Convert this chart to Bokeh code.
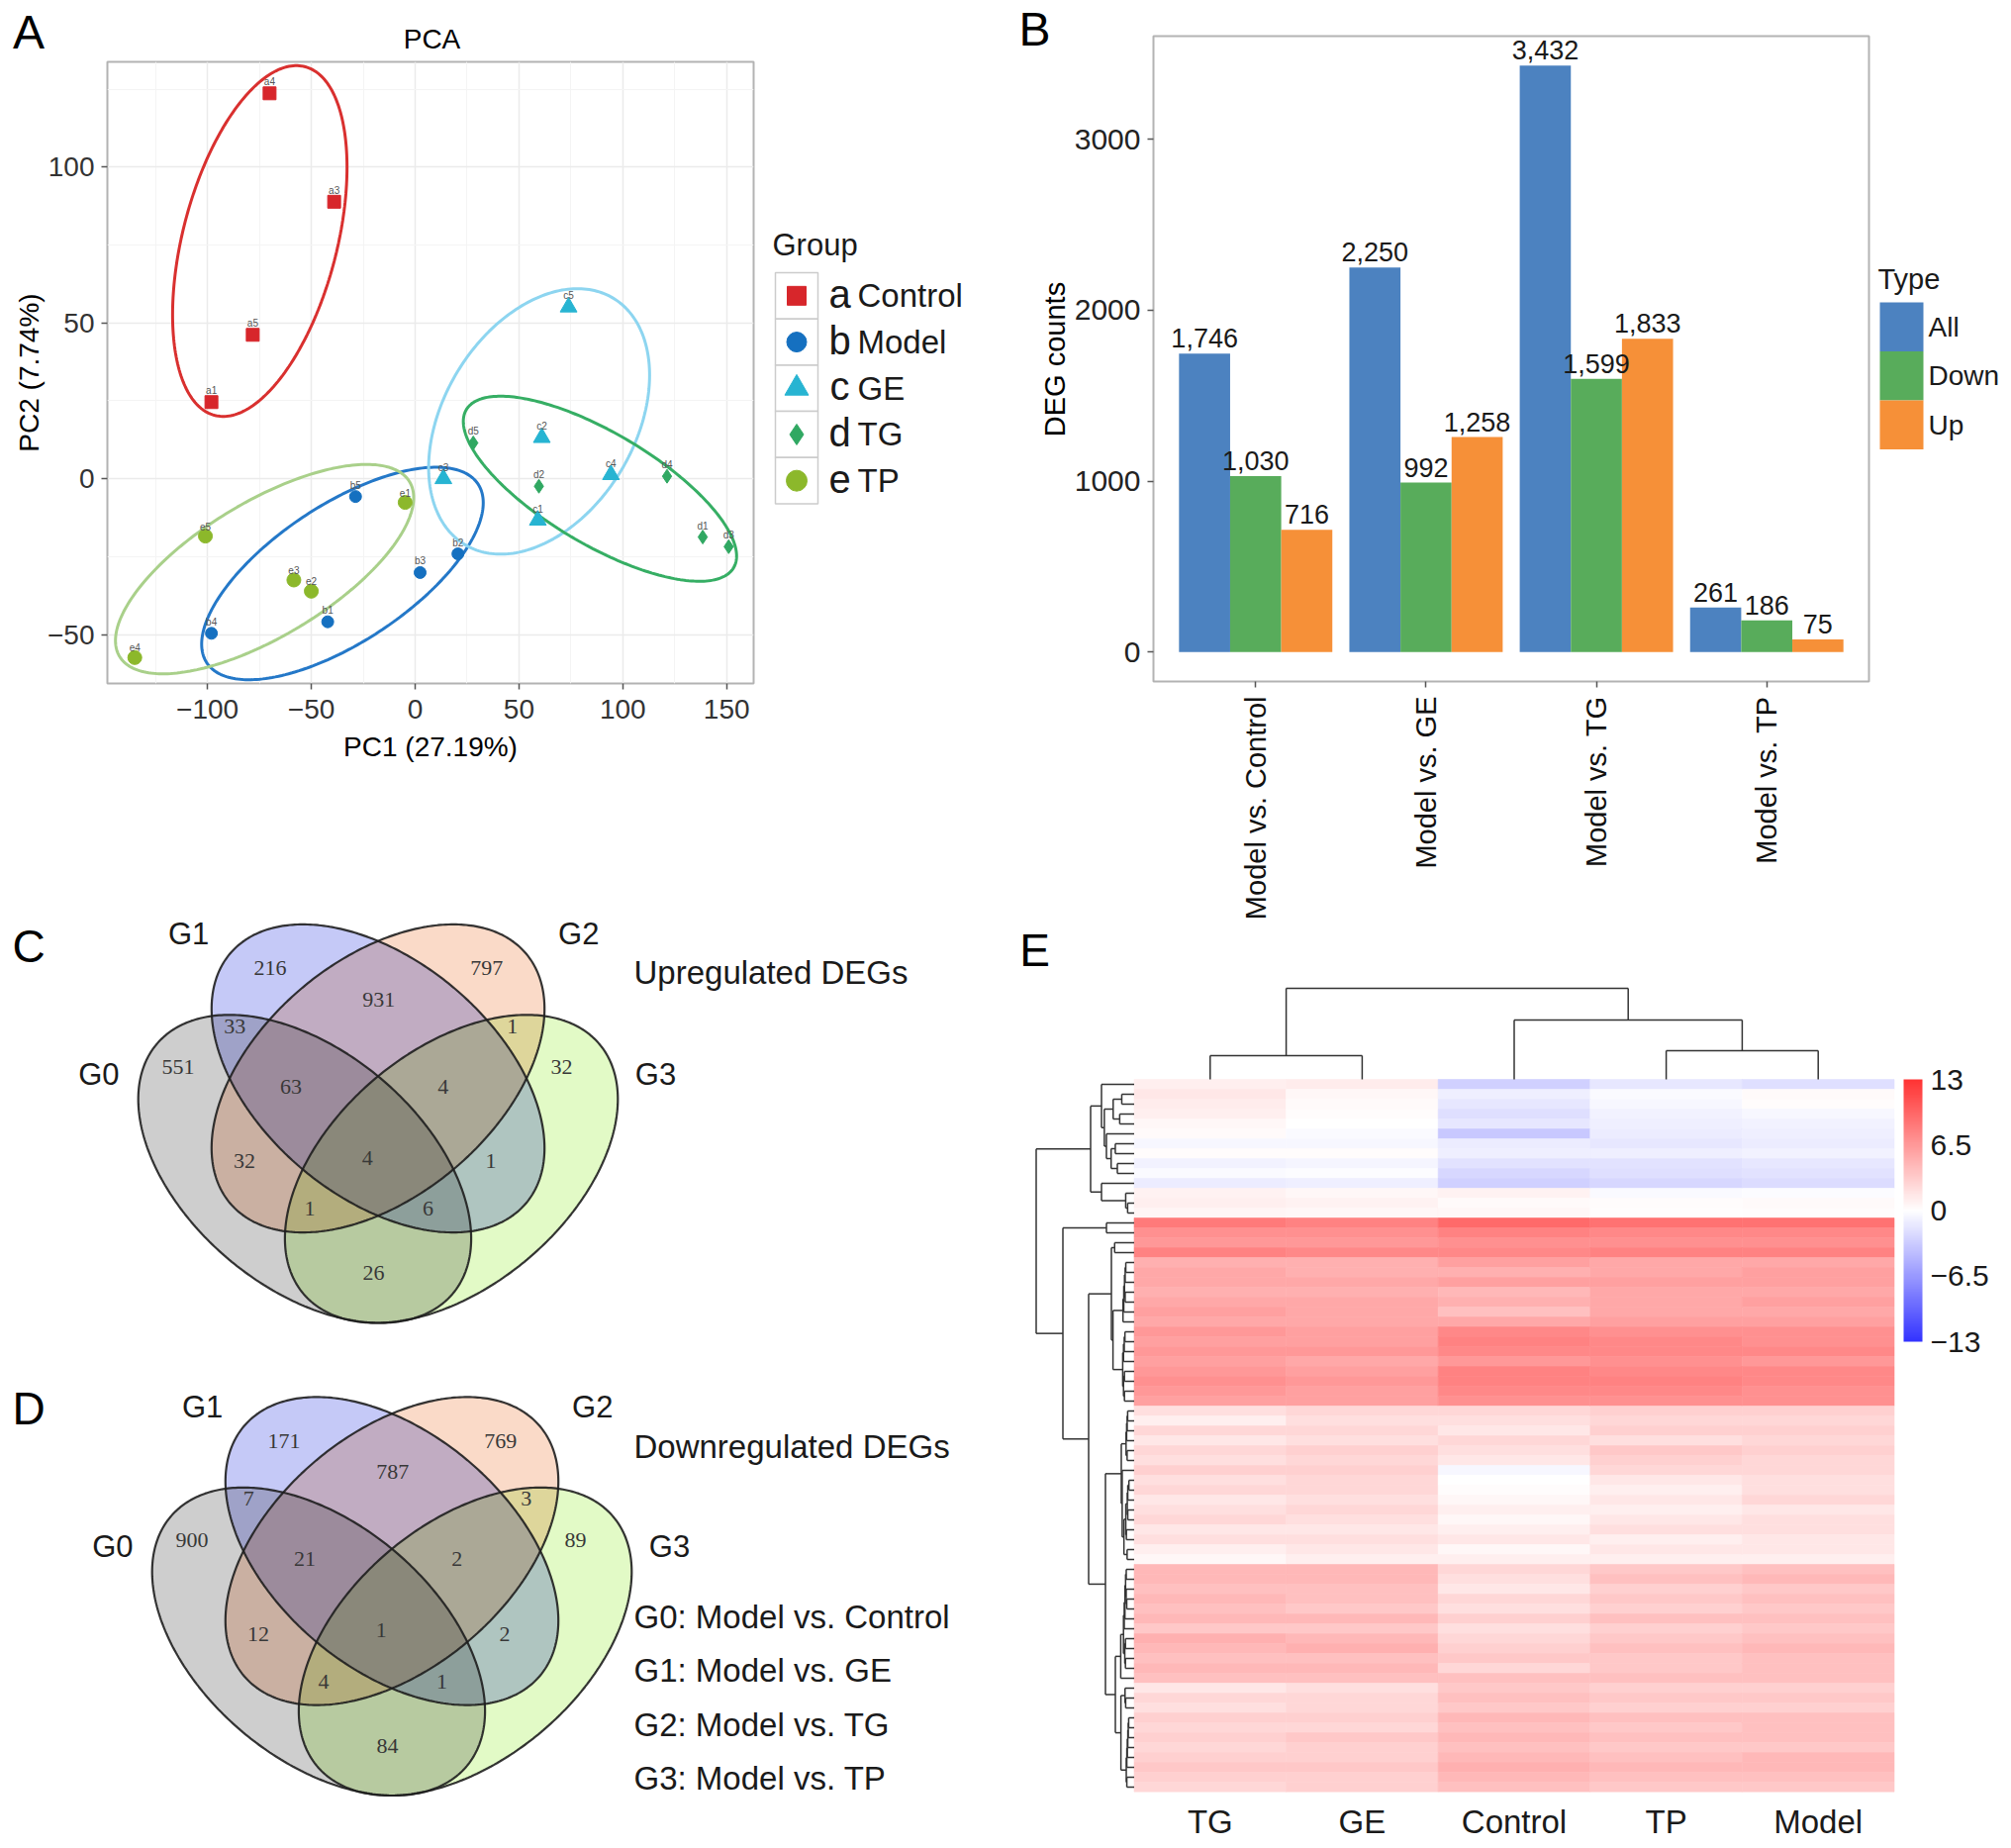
import numpy as np
from bokeh.plotting import figure
from bokeh.models import Range1d, FixedTicker, ColorBar, LinearColorMapper, ColumnDataSource
from bokeh.layouts import row, column
from bokeh.transform import dodge
from bokeh.embed import file_html
from bokeh.resources import INLINE
from bokeh.core.properties import value

SANS = "Liberation Sans"
SERIF = "Liberation Serif"
MINUS = "\u2212"

# ============================ DATA ============================
# ---- A: PCA scores ----
pca_groups = ["Control", "Model", "GE", "TG", "TP"]
pca_codes = ["a", "b", "c", "d", "e"]
control_ids = ["a1", "a3", "a4", "a5"]
control_pc1 = [-98.1, -39.0, -70.1, -78.2]
control_pc2 = [24.6, 88.9, 123.7, 46.2]
model_ids = ["b1", "b2", "b3", "b4", "b5"]
model_pc1 = [-42.1, 20.6, 2.4, -98.1, -28.7]
model_pc2 = [-45.9, -24.1, -30.1, -49.6, -5.7]
ge_ids = ["c1", "c2", "c3", "c4", "c5"]
ge_pc1 = [59.1, 61.0, 13.6, 94.3, 73.9]
ge_pc2 = [-13.3, 13.2, 0.0, 1.3, 55.1]
tg_ids = ["d1", "d2", "d3", "d4", "d5"]
tg_pc1 = [138.5, 59.6, 151.0, 121.3, 28.0]
tg_pc2 = [-18.7, -2.4, -21.8, 0.8, 11.5]
tp_ids = ["e1", "e2", "e3", "e4", "e5"]
tp_pc1 = [-4.8, -50.0, -58.4, -135.0, -101.0]
tp_pc2 = [-7.6, -36.1, -32.5, -57.4, -18.4]
# group ellipses: centre, half extent along PC1 / PC2, PC1-PC2 correlation
ell_pc1_mid = [-74.8, -35.0, 59.7, 89.0, -72.5]
ell_pc2_mid = [76.3, -30.4, 18.4, -3.2, -29.0]
ell_pc1_half = [42.0, 67.8, 53.2, 65.8, 71.8]
ell_pc2_half = [56.3, 34.1, 42.6, 29.7, 33.6]
ell_corr = [0.42, 0.665, 0.348, -0.727, 0.683]

# ---- B: DEG counts ----
deg_comparisons = ["Model vs. Control", "Model vs. GE", "Model vs. TG", "Model vs. TP"]
deg_types = ["All", "Down", "Up"]
deg_all = [1746, 2250, 3432, 261]
deg_down = [1030, 992, 1599, 186]
deg_up = [716, 1258, 1833, 75]

# ---- C / D: Venn region counts ----
venn_sets = ["G0", "G1", "G2", "G3"]
venn_set_desc = ["Model vs. Control", "Model vs. GE", "Model vs. TG", "Model vs. TP"]
venn_regions = ["G1", "G2", "G1G2", "G0G1", "G2G3", "G0", "G3", "G0G1G2", "G1G2G3",
                "G0G2", "G0G1G2G3", "G1G3", "G0G2G3", "G0G1G3", "G0G3"]
venn_up = [216, 797, 931, 33, 1, 551, 32, 63, 4, 32, 4, 1, 1, 6, 26]
venn_down = [171, 769, 787, 7, 3, 900, 89, 21, 2, 12, 1, 2, 4, 1, 84]

# ---- E: heatmap (rows top to bottom) ----
hm_samples = ["TG", "GE", "Control", "TP", "Model"]
hm_TG = [1.0, 1.5, 1.2, 1.0, 0.5, 0.3, -0.5, 0.2, -0.8, -0.3, -1.2, 0.8, 1.0, 0.6,
         8.5, 7.0, 6.5, 8.0,
         5.0, 5.5, 5.5, 5.0, 5.5, 6.0, 5.5,
         6.5, 6.0, 6.5, 6.0, 6.5, 7.0, 6.5, 6.0,
         2.0, 1.0, 2.5, 1.5, 2.5, 2.0, 3.0,
         2.0, 2.5, 1.5, 2.0, 2.5, 1.5, 2.0, 1.0, 0.5,
         4.5, 4.5, 4.0, 4.5, 4.0, 4.5, 3.5, 5.0, 4.5, 4.0, 4.5, 4.0,
         1.5, 2.5, 2.0, 3.0, 2.5, 3.0, 2.5, 3.0, 3.5, 3.0, 2.5]
hm_GE = [1.2, 0.5, 0.3, 0.2, 0.0, -0.3, -0.5, 0.2, -0.6, -0.2, -1.0, 0.5, 0.8, 0.5,
         8.0, 7.0, 6.5, 7.5,
         5.0, 5.0, 5.5, 5.0, 5.5, 5.5, 5.5,
         6.0, 6.0, 6.5, 5.5, 6.0, 6.5, 6.0, 6.0,
         2.5, 2.0, 2.5, 2.0, 3.0, 2.5, 3.0,
         2.5, 2.5, 2.0, 2.5, 2.0, 1.5, 2.0, 1.5, 1.0,
         4.5, 4.5, 4.0, 4.0, 3.5, 4.5, 3.5, 4.5, 5.0, 4.0, 4.5, 4.0,
         2.0, 2.5, 2.5, 3.0, 2.5, 3.5, 3.0, 3.0, 3.5, 3.0, 3.0]
hm_Control = [-3.0, -1.0, -1.5, -2.0, -1.5, -3.5, -1.2, -1.0, -1.8, -2.5, -3.0, 0.8, 0.3, 0.5,
              9.5, 8.0, 7.0, 7.5,
              6.0, 5.0, 6.0, 4.5, 5.0, 4.0, 5.5,
              7.5, 8.0, 7.5, 6.5, 8.0, 8.0, 7.5, 7.0,
              2.5, 2.0, 1.5, 2.5, 2.0, 1.5, -0.5,
              0.0, 0.2, 0.5, 1.0, 0.5, 1.0, 1.5, 0.5, 1.0,
              2.5, 2.0, 1.5, 2.5, 2.0, 3.0, 2.0, 2.5, 3.0, 3.5, 2.5, 4.0,
              3.5, 4.0, 3.5, 4.5, 4.0, 4.5, 4.0, 4.5, 5.0, 4.5, 4.0]
hm_TP = [-1.5, -0.3, -0.5, -0.8, -1.0, -1.2, -1.5, -1.0, -1.8, -2.0, -2.5, -0.3, 0.2, 0.1,
         9.0, 7.5, 7.0, 8.0,
         5.5, 5.5, 6.0, 5.5, 5.5, 5.5, 6.0,
         7.0, 7.5, 7.5, 7.0, 7.5, 8.0, 7.5, 7.0,
         3.0, 2.5, 3.0, 2.0, 3.5, 3.0, 2.5,
         1.5, 1.0, 1.5, 1.0, 1.5, 2.0, 1.0, 1.5, 1.0,
         3.5, 4.0, 3.0, 3.5, 3.0, 4.0, 3.0, 3.5, 4.0, 3.5, 3.5, 4.0,
         3.0, 3.5, 3.0, 4.0, 3.5, 4.0, 3.5, 4.0, 4.5, 4.0, 3.5]
hm_Model = [-2.0, 0.3, 0.2, -0.5, -0.8, -1.0, -1.2, -0.8, -1.5, -1.8, -2.2, -0.2, 0.3, 0.2,
            9.0, 7.5, 7.0, 8.0,
            5.5, 6.0, 6.0, 5.5, 6.0, 5.5, 6.0,
            7.0, 7.0, 7.5, 6.5, 7.5, 7.5, 7.0, 7.0,
            3.0, 2.5, 3.0, 2.5, 3.0, 2.5, 2.5,
            2.0, 2.0, 2.5, 1.5, 2.0, 2.0, 1.5, 1.5, 1.0,
            4.0, 4.5, 3.5, 4.0, 3.5, 4.0, 3.5, 4.0, 4.5, 4.0, 4.0, 4.0,
            3.0, 3.5, 3.0, 4.0, 4.0, 4.0, 3.5, 4.5, 4.5, 4.0, 3.5]
hm_limits = [-13, -6.5, 0, 6.5, 13]
# column dendrogram: merge heights (TG+GE), (TP+Model), (Control+[TP,Model]), root
col_merge_height = [24, 29, 60, 92]
# row dendrogram: row blocks, their top merge heights, and the merges joining them
row_blocks = [(0, 10), (10, 14), (14, 16), (16, 33), (33, 49), (49, 72)]
row_block_height = [33, 33, 28, 23, 13, 19]
row_tree = ("n", 99, ("n", 44, 0, 1), ("n", 72, 2, ("n", 46, 3, ("n", 29, 4, 5))))

# ============================ STYLE ============================
grp_point_color = ["#D7262B", "#1570C0", "#27B4D2", "#30A862", "#8CB82B"]
grp_ell_color = ["#D9302F", "#2478C8", "#8DD5F0", "#36AE64", "#A9D08A"]
grp_marker = ["square", "circle", "triangle", "diamond", "circle"]
grp_size = [13, 12, 17, 14, 14]
grp_leg_size = [19, 20, 24, 21, 21]
deg_colors = ["#4C82C0", "#58AC5B", "#F69038"]
TXT = "#1A1A1A"


def style_axis(ax, size, color="#333333"):
    ax.axis_line_color = None
    ax.major_tick_line_color = "#555555"
    ax.major_tick_line_width = 1.5
    ax.major_tick_in = 0
    ax.major_tick_out = 6
    ax.minor_tick_line_color = None
    ax.major_label_text_font = SANS
    ax.major_label_text_font_size = size
    ax.major_label_text_color = color
    ax.axis_label_text_font = SANS
    ax.axis_label_text_font_style = "normal"
    ax.axis_label_text_color = "#000000"


def blank_fig(width, height, x0, x1, y0, y1):
    p = figure(width=width, height=height, x_range=Range1d(x0, x1), y_range=Range1d(y0, y1),
               x_axis_type=None, y_axis_type=None, toolbar_location=None, output_backend="svg",
               min_border_left=0, min_border_right=0, min_border_top=0, min_border_bottom=0,
               frame_align=False)
    p.outline_line_color = None
    p.background_fill_color = "white"
    p.border_fill_color = "white"
    return p


def put_text(p, xs, ys, texts, size, font=SANS, align="left", color=TXT, angle=0.0):
    p.text(x=xs, y=ys, text=texts, text_font=value(font), text_font_size=size,
           text_align=align, text_baseline="middle", text_color=color, angle=angle)


# ============================ PANEL A ============================
stripA = blank_fig(775, 61, 0, 775, -61, 0)
put_text(stripA, [28.5], [-32], ["A"], "48px", align="center", color="#000000")
put_text(stripA, [436], [-39], ["PCA"], "28px", align="center", color="#000000")

pA = figure(width=775, height=819,
            x_range=Range1d(-148.2, 163.0), y_range=Range1d(-65.7, 133.8),
            min_border_left=108, min_border_right=14, min_border_top=1, min_border_bottom=190,
            toolbar_location=None, output_backend="svg", frame_align=False)
pA.outline_line_color = "#B3B3B3"
pA.outline_line_width = 2
xtA = FixedTicker(ticks=[-100, -50, 0, 50, 100, 150], minor_ticks=[-125, -75, -25, 25, 75, 125])
ytA = FixedTicker(ticks=[-50, 0, 50, 100], minor_ticks=[-25, 25, 75, 125])
pA.xaxis.ticker = xtA
pA.yaxis.ticker = ytA
pA.xgrid.ticker = xtA
pA.ygrid.ticker = ytA
for g in (pA.xgrid, pA.ygrid):
    g.grid_line_color = "#EBEBEB"
    g.grid_line_width = 1.5
    g.minor_grid_line_color = "#F4F4F4"
    g.minor_grid_line_width = 1
style_axis(pA.xaxis, "28px")
style_axis(pA.yaxis, "28px")
pA.xaxis.major_label_overrides = {-100: MINUS + "100", -50: MINUS + "50"}
pA.yaxis.major_label_overrides = {-50: MINUS + "50"}
pA.xaxis.axis_label = "PC1 (27.19%)"
pA.yaxis.axis_label = "PC2 (7.74%)"
pA.xaxis.axis_label_text_font_size = "28px"
pA.yaxis.axis_label_text_font_size = "28px"
pA.xaxis.major_label_standoff = 10
pA.xaxis.axis_label_standoff = 10
pA.yaxis.major_label_standoff = 7
pA.yaxis.axis_label_standoff = 0

tt = np.linspace(0, 2 * np.pi, 241)
ell_xs, ell_ys = [], []
for k in range(len(pca_groups)):
    phi = np.arccos(ell_corr[k])
    ell_xs.append(list(ell_pc1_mid[k] + ell_pc1_half[k] * np.cos(tt)))
    ell_ys.append(list(ell_pc2_mid[k] + ell_pc2_half[k] * np.cos(tt + phi)))
pA.multi_line(ell_xs, ell_ys, line_color=grp_ell_color, line_width=3)

grp_pc1 = [control_pc1, model_pc1, ge_pc1, tg_pc1, tp_pc1]
grp_pc2 = [control_pc2, model_pc2, ge_pc2, tg_pc2, tp_pc2]
grp_ids = [control_ids, model_ids, ge_ids, tg_ids, tp_ids]
for k in range(len(pca_groups)):
    src = ColumnDataSource(dict(x=grp_pc1[k], y=grp_pc2[k], t=grp_ids[k]))
    pA.scatter("x", "y", source=src, marker=grp_marker[k], size=grp_size[k],
               fill_color=grp_point_color[k], line_color=grp_point_color[k])
    pA.text("x", "y", text="t", source=src, text_font=value(SANS), text_font_size="10px",
            text_align="center", text_baseline="bottom", y_offset=-6, text_color="#555555")

# legend of A (page pixel coordinates, y negative downwards)
lA = blank_fig(225, 880, 775, 1000, -880, 0)
key_top = [275 + 46.7 * i for i in range(len(pca_groups))]
key_mid = [t + 23.35 for t in key_top]
lA.quad(left=783, right=826, top=[-t for t in key_top], bottom=[-(t + 46.7) for t in key_top],
        fill_color="white", line_color="#CCCCCC", line_width=1.5)
lA.scatter(x=[804.5] * 5, y=[-m for m in key_mid], marker=grp_marker, size=grp_leg_size,
           fill_color=grp_point_color, line_color=grp_point_color)
put_text(lA, [848] * 5, [-m + 2 for m in key_mid], pca_codes, "40px", align="center")
put_text(lA, [866] * 5, [-m for m in key_mid], pca_groups, "33px")
put_text(lA, [780], [-247], ["Group"], "31px")

# ============================ PANEL B ============================
B_H = 932
stripB = blank_fig(82, B_H, 1000, 1082, -B_H, 0)
put_text(stripB, [1045], [-28.5], ["B"], "48px", align="center", color="#000000")
put_text(stripB, [1065], [-362.5], ["DEG counts"], "29px", align="center", color="#000000",
         angle=np.pi / 2)

pB = figure(width=808, height=B_H, x_range=Range1d(0.4, 4.6), y_range=Range1d(-171.6, 3603.6),
            min_border_left=81, min_border_right=2, min_border_top=36,
            min_border_bottom=B_H - 36 - 653,
            toolbar_location=None, output_backend="svg", frame_align=False)
pB.outline_line_color = "#B3B3B3"
pB.outline_line_width = 2
pB.xgrid.visible = False
pB.ygrid.visible = False
style_axis(pB.xaxis, "29px", "#111111")
style_axis(pB.yaxis, "30px", "#222222")
pB.yaxis.ticker = FixedTicker(ticks=[0, 1000, 2000, 3000])
pB.xaxis.ticker = FixedTicker(ticks=[1, 2, 3, 4])
pB.xaxis.major_label_overrides = {i + 1: n for i, n in enumerate(deg_comparisons)}
pB.xaxis.major_label_orientation = np.pi / 2
pB.xaxis.major_label_standoff = 9
pB.yaxis.major_label_standoff = 7

srcB = ColumnDataSource(dict(pos=[1, 2, 3, 4], All=deg_all, Down=deg_down, Up=deg_up,
                             All_t=[f"{v:,}" for v in deg_all],
                             Down_t=[f"{v:,}" for v in deg_down],
                             Up_t=[f"{v:,}" for v in deg_up]))
for typ, off, col in zip(deg_types, [-0.3, 0.0, 0.3], deg_colors):
    pB.vbar(x=dodge("pos", off), top=typ, bottom=0, width=0.3, source=srcB,
            fill_color=col, line_color=None)
for typ, off in zip(deg_types, [-0.3, 0.0, 0.3]):
    pB.text(x=dodge("pos", off), y=typ, text=typ + "_t", source=srcB, text_font=value(SANS),
            text_font_size="27px", text_align="center", text_baseline="bottom", y_offset=-6,
            text_color="#1A1A1A")

lB = blank_fig(142, B_H, 1890, 2032, -B_H, 0)
tkey = [305 + 49.5 * i for i in range(3)]
lB.quad(left=1899, right=1943, top=[-t for t in tkey], bottom=[-(t + 49.5) for t in tkey],
        fill_color=deg_colors, line_color=None)
put_text(lB, [1948] * 3, [-(t + 24.75) for t in tkey], deg_types, "28px")
put_text(lB, [1897], [-281], ["Type"], "29px")

# ============================ PANELS C & D ============================
pCD = blank_fig(1000, 987, 0, 1000, -1867, -880)
venn_centre_C = [(307.4, 1180.4), (381.5, 1089.0), (381.5, 1089.0), (455.6, 1180.4)]
venn_orient = [1, 1, -1, -1]
VX, VY, VXY = 168.2, 155.6, 11834.0
venn_tint = [(206, 206, 206), (197, 201, 247), (250, 218, 200), (226, 250, 198)]
venn_region_xy_C = [(272.4, 977.6), (491.3, 977.6), (382.2, 1009.0), (236.8, 1036.0),
                    (517.3, 1036.0), (179.4, 1077.9), (567.1, 1077.9), (293.4, 1097.0),
                    (447.3, 1097.0), (246.4, 1172.8), (370.8, 1169.0), (495.5, 1172.8),
                    (312.6, 1220.6), (432.0, 1220.6), (376.9, 1285.7)]
venn_setlabel_xy_C = [(99.4, 1084.7), (190.1, 943.0), (584.3, 943.0), (662.0, 1084.7)]
venn_shift = [(0.0, 0.0), (14.0, 477.5)]


def venn_layer(cx, cy, covs, x0, x1, y0, y1):
    xs = np.arange(x0, x1) + 0.5
    ys = np.arange(y1, y0, -1) - 0.5
    XX, YY = np.meshgrid(xs, ys)
    rgb = np.ones(XX.shape + (3,))
    inside_any = np.zeros(XX.shape, dtype=bool)
    for a, b, S, tint in zip(cx, cy, covs, venn_tint):
        Si = np.linalg.inv(S)
        dx = XX - a
        dy = YY - b
        q = Si[0, 0] * dx * dx + 2 * Si[0, 1] * dx * dy + Si[1, 1] * dy * dy
        m = q <= 1.0
        rgb[m] *= np.array(tint) / 255.0
        inside_any |= m
    img = np.empty(XX.shape, dtype=np.uint32)
    v = img.view(dtype=np.uint8).reshape(XX.shape + (4,))
    v[..., 0:3] = np.round(rgb * 255).astype(np.uint8)
    v[..., 3] = np.where(inside_any, 255, 0).astype(np.uint8)
    return img


tv = np.linspace(0, 2 * np.pi, 361)
for counts, (sx, sy) in zip([venn_up, venn_down], venn_shift):
    cx = [c[0] + sx for c in venn_centre_C]
    cy = [c[1] + sy for c in venn_centre_C]
    covs = [np.array([[VX ** 2, o * VXY], [o * VXY, VY ** 2]]) for o in venn_orient]
    x0, x1 = int(136 + sx), int(628 + sx)
    y0, y1 = int(929 + sy), int(1341 + sy)
    img = venn_layer(cx, cy, covs, x0, x1, y0, y1)
    pCD.image_rgba(image=[img], x=x0, y=-y1, dw=x1 - x0, dh=y1 - y0)
    oxs, oys = [], []
    for a, b, S in zip(cx, cy, covs):
        L = np.linalg.cholesky(S)
        pts = L @ np.vstack([np.cos(tv), np.sin(tv)])
        oxs.append(list(a + pts[0]))
        oys.append(list(-(b + pts[1])))
    pCD.multi_line(oxs, oys, line_color="#1E1E1E", line_width=2.2, line_alpha=0.9)
    put_text(pCD, [p[0] + sx for p in venn_region_xy_C], [-(p[1] + sy) for p in venn_region_xy_C],
             [str(c) for c in counts], "22px", font=SERIF, align="center", color="#383838")
    put_text(pCD, [p[0] + sx for p in venn_setlabel_xy_C], [-(p[1] + sy) for p in venn_setlabel_xy_C],
             venn_sets, "31px", align="center")

put_text(pCD, [640, 640], [-982, -1461], ["Upregulated DEGs", "Downregulated DEGs"], "33px")
put_text(pCD, [640] * 4, [-1633, -1687, -1742, -1796],
         [f"{s}: {d}" for s, d in zip(venn_sets, venn_set_desc)], "33px")
put_text(pCD, [28.5, 28.5], [-955, -1422], ["C", "D"], "46px", align="center", color="#000000")

# ============================ PANEL E ============================
COLPX, ROWPX = 153.6, 10.0
HM_LEFT, HM_BOTTOM, E_TOP = 1145.5, 1810.0, float(B_H)
hm_cols = [hm_TG, hm_GE, hm_Control, hm_TP, hm_Model]
hm_matrix = np.array(hm_cols, dtype=float).T
NR = hm_matrix.shape[0]

pE = figure(width=1032, height=1867 - B_H,
            x_range=Range1d((1000 - HM_LEFT) / COLPX, (2032 - HM_LEFT) / COLPX),
            y_range=Range1d(0, (HM_BOTTOM - E_TOP) / ROWPX),
            min_border_left=0, min_border_right=0, min_border_top=0, min_border_bottom=57,
            y_axis_type=None, toolbar_location=None, output_backend="svg", frame_align=False)
pE.outline_line_color = None
pE.xgrid.visible = False
pE.xaxis.ticker = FixedTicker(ticks=[j + 0.5 for j in range(len(hm_samples))])
pE.xaxis.major_label_overrides = {j + 0.5: s for j, s in enumerate(hm_samples)}
pE.xaxis.axis_line_color = None
pE.xaxis.major_tick_line_color = None
pE.xaxis.minor_tick_line_color = None
pE.xaxis.major_tick_out = 0
pE.xaxis.major_tick_in = 0
pE.xaxis.major_label_standoff = 11
pE.xaxis.major_label_text_font = SANS
pE.xaxis.major_label_text_font_size = "33px"
pE.xaxis.major_label_text_color = TXT


def ramp(c0, c1, n):
    return ["#%02x%02x%02x" % tuple(int(round(c0[k] + (c1[k] - c0[k]) * t)) for k in range(3))
            for t in np.linspace(0, 1, n)]


palette = ramp((51, 51, 255), (255, 255, 255), 128) + ramp((255, 255, 255), (255, 51, 51), 128)[1:]
mapper = LinearColorMapper(palette=palette, low=hm_limits[0], high=hm_limits[-1])

ex, ey, ev = [], [], []
for j, colvals in enumerate(hm_cols):
    for i, v in enumerate(colvals):
        ex.append(j + 0.5)
        ey.append(NR - i - 0.5)
        ev.append(v)
srcE = ColumnDataSource(dict(x=ex, y=ey, v=ev))
pE.rect("x", "y", width=1, height=1, source=srcE,
        fill_color={"field": "v", "transform": mapper},
        line_color={"field": "v", "transform": mapper}, line_width=0.6)


# ---- dendrograms ----
def adjacent_linkage(a, b):
    nodes = [{"rows": [i], "kids": None, "d": 0.0} for i in range(a, b)]
    while len(nodes) > 1:
        best = None
        for k in range(len(nodes) - 1):
            A = hm_matrix[nodes[k]["rows"]]
            B = hm_matrix[nodes[k + 1]["rows"]]
            d = float(np.sqrt(((A[:, None, :] - B[None, :, :]) ** 2).sum(-1)).mean())
            if best is None or d < best[1]:
                best = (k, d)
        k, d = best
        nodes[k:k + 2] = [{"rows": nodes[k]["rows"] + nodes[k + 1]["rows"],
                           "kids": (nodes[k], nodes[k + 1]), "d": d}]
    return nodes[0]


def set_heights(node, H, dmax, cap):
    if node["kids"] is None:
        node["h"] = 0.0
        return
    h = H * (node["d"] / dmax) ** 0.7 if dmax > 0 else H
    node["h"] = min(h, cap)
    for kid in node["kids"]:
        set_heights(kid, H, dmax, 0.93 * node["h"])


def block_tree(bi):
    a, b = row_blocks[bi]
    H = row_block_height[bi]
    root = adjacent_linkage(a, b)
    if root["kids"] is None:
        root["h"] = 0.0
        return root
    root["h"] = H
    for kid in root["kids"]:
        set_heights(kid, H, root["d"], 0.93 * H)
    return root


def from_spec(spec, leaf_fn):
    if isinstance(spec, tuple):
        _, h, l, r = spec
        return {"h": float(h), "kids": (from_spec(l, leaf_fn), from_spec(r, leaf_fn))}
    return leaf_fn(spec)


def place(node, leaf_pos, segs):
    if node["kids"] is None:
        node["pos"] = leaf_pos(node["rows"][0])
        return
    for kid in node["kids"]:
        place(kid, leaf_pos, segs)
    l, r = node["kids"]
    node["pos"] = 0.5 * (l["pos"] + r["pos"])
    segs.append((node["h"], l["pos"], node["h"], r["pos"]))
    segs.append((l["h"], l["pos"], node["h"], l["pos"]))
    segs.append((r["h"], r["pos"], node["h"], r["pos"]))


row_root = from_spec(row_tree, block_tree)
rsegs = []
place(row_root, lambda i: NR - i - 0.5, rsegs)
pE.segment(x0=[-s[0] / COLPX for s in rsegs], y0=[s[1] for s in rsegs],
           x1=[-s[2] / COLPX for s in rsegs], y1=[s[3] for s in rsegs],
           line_color="#333333", line_width=1.5)

col_tree = ("n", col_merge_height[3], ("n", col_merge_height[0], 0, 1),
            ("n", col_merge_height[2], 2, ("n", col_merge_height[1], 3, 4)))
col_root = from_spec(col_tree, lambda j: {"rows": [j], "kids": None, "h": 0.0})
csegs = []
place(col_root, lambda j: j + 0.5, csegs)
pE.segment(x0=[s[1] for s in csegs], y0=[NR + s[0] / ROWPX for s in csegs],
           x1=[s[3] for s in csegs], y1=[NR + s[2] / ROWPX for s in csegs],
           line_color="#333333", line_width=1.5)

cb = ColorBar(color_mapper=mapper, location=(923, 455), width=19, height=265, padding=0,
              orientation="vertical", ticker=FixedTicker(ticks=hm_limits),
              major_label_overrides={-13: MINUS + "13", -6.5: MINUS + "6.5", 0: "0", 6.5: "6.5", 13: "13"},
              major_label_text_font=SANS, major_label_text_font_size="30px",
              major_label_text_color=TXT, major_tick_line_color=None, minor_tick_line_color=None,
              label_standoff=8, bar_line_color=None, border_line_color=None,
              background_fill_color=None)
pE.add_layout(cb, "center")
put_text(pE, [(1045 - HM_LEFT) / COLPX], [(HM_BOTTOM - 959) / ROWPX], ["E"], "46px",
         align="center", color="#000000")

# ============================ LAYOUT ============================
left_col = column(row(column(stripA, pA), lA), pCD)
right_col = column(row(stripB, pB, lB), pE)
layout = row(left_col, right_col)
open("out.html", "w").write(file_html(layout, INLINE))
